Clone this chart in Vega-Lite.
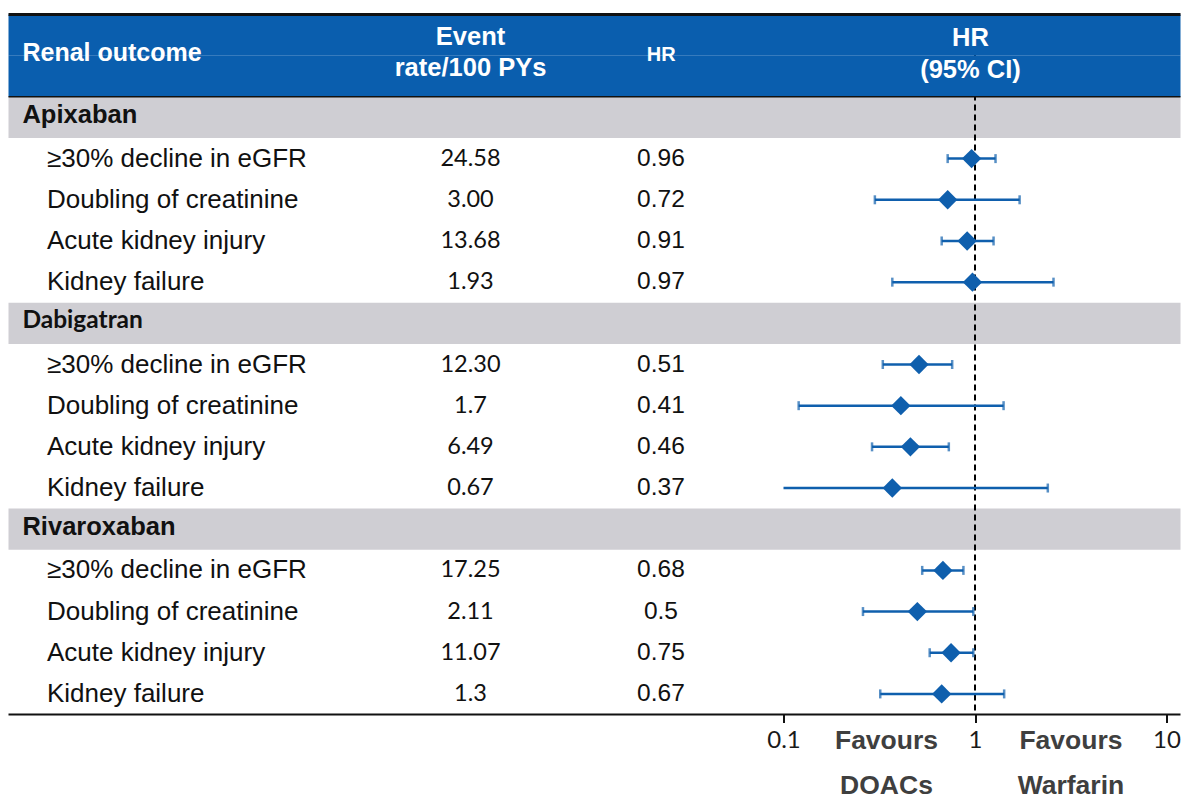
{
  "$schema": "https://vega.github.io/schema/vega-lite/v6.json",
  "width": 1172,
  "height": 700,
  "padding": {"left": 6.5, "top": 12.5, "right": 0, "bottom": 12},
  "background": "white",
  "config": {"view": {"stroke": null}, "font": "Liberation Sans"},
  "datasets": {
    "rows": [
      {"id": "apx", "kind": "group", "label": "Apixaban"},
      {"id": "apx1", "kind": "item", "label": "≥30% decline in eGFR", "rate": "24.58", "hr": 0.96, "lo": 0.72, "hi": 1.28},
      {"id": "apx2", "kind": "item", "label": "Doubling of creatinine", "rate": "3.00", "hr": 0.72, "lo": 0.30, "hi": 1.71},
      {"id": "apx3", "kind": "item", "label": "Acute kidney injury", "rate": "13.68", "hr": 0.91, "lo": 0.67, "hi": 1.25},
      {"id": "apx4", "kind": "item", "label": "Kidney failure", "rate": "1.93", "hr": 0.97, "lo": 0.37, "hi": 2.57},
      {"id": "dab", "kind": "group", "label": "Dabigatran"},
      {"id": "dab1", "kind": "item", "label": "≥30% decline in eGFR", "rate": "12.30", "hr": 0.51, "lo": 0.33, "hi": 0.76},
      {"id": "dab2", "kind": "item", "label": "Doubling of creatinine", "rate": "1.7", "hr": 0.41, "lo": 0.12, "hi": 1.41},
      {"id": "dab3", "kind": "item", "label": "Acute kidney injury", "rate": "6.49", "hr": 0.46, "lo": 0.29, "hi": 0.73},
      {"id": "dab4", "kind": "item", "label": "Kidney failure", "rate": "0.67", "hr": 0.37, "lo": 0.09, "hi": 2.40},
      {"id": "riv", "kind": "group", "label": "Rivaroxaban"},
      {"id": "riv1", "kind": "item", "label": "≥30% decline in eGFR", "rate": "17.25", "hr": 0.68, "lo": 0.53, "hi": 0.87},
      {"id": "riv2", "kind": "item", "label": "Doubling of creatinine", "rate": "2.11", "hr": 0.5, "lo": 0.26, "hi": 0.98},
      {"id": "riv3", "kind": "item", "label": "Acute kidney injury", "rate": "11.07", "hr": 0.75, "lo": 0.58, "hi": 0.98},
      {"id": "riv4", "kind": "item", "label": "Kidney failure", "rate": "1.3", "hr": 0.67, "lo": 0.32, "hi": 1.42}
    ],
    "header": [{"id": "hdr1"}, {"id": "hdr2"}],
    "one": [{}]
  },
  "data": {"name": "rows"},
  "layer": [
    {
      "layer": [
        {
          "transform": [{"filter": "datum.kind === 'group'"}],
          "mark": {"type": "rect", "color": "#CFCED3"},
          "encoding": {
            "x": {"datum": 0, "type": "quantitative", "scale": {"domain": [0, 1], "nice": false, "zero": false}, "axis": null},
            "x2": {"datum": 1},
            "y": {"field": "id", "type": "nominal", "scale": {"domain": ["hdr1","hdr2","apx","apx1","apx2","apx3","apx4","dab","dab1","dab2","dab3","dab4","riv","riv1","riv2","riv3","riv4"], "paddingInner": 0, "paddingOuter": 0}, "axis": null}
          }
        }
      ]
    },
    {
      "layer": [
        {
          "data": {"name": "one"},
          "mark": {"type": "rule", "color": "#000000", "strokeWidth": 2, "strokeDash": [6, 4]},
          "encoding": {
            "x": {"datum": 1, "type": "quantitative", "scale": {"type": "log", "domain": [0.1, 10], "range": [775, 1158], "clamp": true, "nice": false}, "axis": {"values": [0.1, 1, 10], "labelExpr": "toString(datum.value)", "title": null, "domain": false, "grid": false, "ticks": true, "tickSize": 8, "tickWidth": 2, "tickColor": "#111111", "labelFont": "Lato", "labelFontSize": 24, "labelColor": "#1a1a1a", "labelPadding": 6, "labelFlush": false, "labelOverlap": false, "labelBound": false}}
          }
        },
        {
          "transform": [{"filter": "datum.kind === 'item'"}],
          "mark": {"type": "rule", "color": "#0F5FAD", "strokeWidth": 2.5},
          "encoding": {
            "x": {"field": "lo", "type": "quantitative", "scale": {"type": "log", "domain": [0.1, 10], "range": [775, 1158], "clamp": true, "nice": false}, "axis": {"values": [0.1, 1, 10], "labelExpr": "toString(datum.value)", "title": null, "domain": false, "grid": false, "ticks": true, "tickSize": 8, "tickWidth": 2, "tickColor": "#111111", "labelFont": "Lato", "labelFontSize": 24, "labelColor": "#1a1a1a", "labelPadding": 6, "labelFlush": false, "labelOverlap": false, "labelBound": false}},
            "x2": {"field": "hi"},
            "y": {"field": "id", "type": "nominal", "scale": {"domain": ["hdr1","hdr2","apx","apx1","apx2","apx3","apx4","dab","dab1","dab2","dab3","dab4","riv","riv1","riv2","riv3","riv4"], "paddingInner": 0, "paddingOuter": 0}, "axis": null}
          }
        },
        {
          "transform": [{"filter": "datum.kind === 'item' && datum.lo >= 0.1"}],
          "mark": {"type": "tick", "color": "#0F5FAD", "size": 9, "thickness": 2.5},
          "encoding": {
            "x": {"field": "lo", "type": "quantitative", "scale": {"type": "log", "domain": [0.1, 10], "range": [775, 1158], "clamp": true, "nice": false}, "axis": {"values": [0.1, 1, 10], "labelExpr": "toString(datum.value)", "title": null, "domain": false, "grid": false, "ticks": true, "tickSize": 8, "tickWidth": 2, "tickColor": "#111111", "labelFont": "Lato", "labelFontSize": 24, "labelColor": "#1a1a1a", "labelPadding": 6, "labelFlush": false, "labelOverlap": false, "labelBound": false}},
            "y": {"field": "id", "type": "nominal", "scale": {"domain": ["hdr1","hdr2","apx","apx1","apx2","apx3","apx4","dab","dab1","dab2","dab3","dab4","riv","riv1","riv2","riv3","riv4"], "paddingInner": 0, "paddingOuter": 0}, "axis": null}
          }
        },
        {
          "transform": [{"filter": "datum.kind === 'item'"}],
          "mark": {"type": "tick", "color": "#0F5FAD", "size": 9, "thickness": 2.5},
          "encoding": {
            "x": {"field": "hi", "type": "quantitative", "scale": {"type": "log", "domain": [0.1, 10], "range": [775, 1158], "clamp": true, "nice": false}, "axis": {"values": [0.1, 1, 10], "labelExpr": "toString(datum.value)", "title": null, "domain": false, "grid": false, "ticks": true, "tickSize": 8, "tickWidth": 2, "tickColor": "#111111", "labelFont": "Lato", "labelFontSize": 24, "labelColor": "#1a1a1a", "labelPadding": 6, "labelFlush": false, "labelOverlap": false, "labelBound": false}},
            "y": {"field": "id", "type": "nominal", "scale": {"domain": ["hdr1","hdr2","apx","apx1","apx2","apx3","apx4","dab","dab1","dab2","dab3","dab4","riv","riv1","riv2","riv3","riv4"], "paddingInner": 0, "paddingOuter": 0}, "axis": null}
          }
        },
        {
          "transform": [{"filter": "datum.kind === 'item'"}],
          "mark": {"type": "point", "shape": "diamond", "filled": true, "size": 375, "color": "#0F5FAD", "opacity": 1},
          "encoding": {
            "x": {"field": "hr", "type": "quantitative", "scale": {"type": "log", "domain": [0.1, 10], "range": [775, 1158], "clamp": true, "nice": false}, "axis": {"values": [0.1, 1, 10], "labelExpr": "toString(datum.value)", "title": null, "domain": false, "grid": false, "ticks": true, "tickSize": 8, "tickWidth": 2, "tickColor": "#111111", "labelFont": "Lato", "labelFontSize": 24, "labelColor": "#1a1a1a", "labelPadding": 6, "labelFlush": false, "labelOverlap": false, "labelBound": false}},
            "y": {"field": "id", "type": "nominal", "scale": {"domain": ["hdr1","hdr2","apx","apx1","apx2","apx3","apx4","dab","dab1","dab2","dab3","dab4","riv","riv1","riv2","riv3","riv4"], "paddingInner": 0, "paddingOuter": 0}, "axis": null}
          }
        },
        {
          "data": {"name": "one"},
          "mark": {"type": "text", "text": "Favours", "font": "Liberation Sans", "fontWeight": "bold", "fontSize": 26.5, "color": "#3f3f3f", "align": "center", "baseline": "middle", "dy": 26},
          "encoding": {
            "x": {"datum": 0.345, "type": "quantitative", "scale": {"type": "log", "domain": [0.1, 10], "range": [775, 1158], "clamp": true, "nice": false}},
            "y": {"datum": "riv4", "type": "nominal", "bandPosition": 1, "scale": {"domain": ["hdr1","hdr2","apx","apx1","apx2","apx3","apx4","dab","dab1","dab2","dab3","dab4","riv","riv1","riv2","riv3","riv4"], "paddingInner": 0, "paddingOuter": 0}, "axis": null}
          }
        },
        {
          "data": {"name": "one"},
          "mark": {"type": "text", "text": "DOACs", "font": "Liberation Sans", "fontWeight": "bold", "fontSize": 26.5, "color": "#3f3f3f", "align": "center", "baseline": "middle", "dy": 71},
          "encoding": {
            "x": {"datum": 0.345, "type": "quantitative", "scale": {"type": "log", "domain": [0.1, 10], "range": [775, 1158], "clamp": true, "nice": false}},
            "y": {"datum": "riv4", "type": "nominal", "bandPosition": 1, "scale": {"domain": ["hdr1","hdr2","apx","apx1","apx2","apx3","apx4","dab","dab1","dab2","dab3","dab4","riv","riv1","riv2","riv3","riv4"], "paddingInner": 0, "paddingOuter": 0}, "axis": null}
          }
        },
        {
          "data": {"name": "one"},
          "mark": {"type": "text", "text": "Favours", "font": "Liberation Sans", "fontWeight": "bold", "fontSize": 26.5, "color": "#3f3f3f", "align": "center", "baseline": "middle", "dy": 26},
          "encoding": {
            "x": {"datum": 3.17, "type": "quantitative", "scale": {"type": "log", "domain": [0.1, 10], "range": [775, 1158], "clamp": true, "nice": false}},
            "y": {"datum": "riv4", "type": "nominal", "bandPosition": 1, "scale": {"domain": ["hdr1","hdr2","apx","apx1","apx2","apx3","apx4","dab","dab1","dab2","dab3","dab4","riv","riv1","riv2","riv3","riv4"], "paddingInner": 0, "paddingOuter": 0}, "axis": null}
          }
        },
        {
          "data": {"name": "one"},
          "mark": {"type": "text", "text": "Warfarin", "font": "Liberation Sans", "fontWeight": "bold", "fontSize": 26.5, "color": "#3f3f3f", "align": "center", "baseline": "middle", "dy": 71},
          "encoding": {
            "x": {"datum": 3.17, "type": "quantitative", "scale": {"type": "log", "domain": [0.1, 10], "range": [775, 1158], "clamp": true, "nice": false}},
            "y": {"datum": "riv4", "type": "nominal", "bandPosition": 1, "scale": {"domain": ["hdr1","hdr2","apx","apx1","apx2","apx3","apx4","dab","dab1","dab2","dab3","dab4","riv","riv1","riv2","riv3","riv4"], "paddingInner": 0, "paddingOuter": 0}, "axis": null}
          }
        }
      ]
    },
    {
      "layer": [
        {
          "data": {"name": "header"},
          "mark": {"type": "rect", "color": "#0A5EAE"},
          "encoding": {
            "x": {"datum": 0, "type": "quantitative", "scale": {"domain": [0, 1], "nice": false, "zero": false}, "axis": null},
            "x2": {"datum": 1},
            "y": {"field": "id", "type": "nominal", "scale": {"domain": ["hdr1","hdr2","apx","apx1","apx2","apx3","apx4","dab","dab1","dab2","dab3","dab4","riv","riv1","riv2","riv3","riv4"], "paddingInner": 0, "paddingOuter": 0}, "axis": null}
          }
        },
        {
          "data": {"name": "one"},
          "mark": {"type": "rule", "color": "#111111", "strokeWidth": 3},
          "encoding": {
            "x": {"datum": 0, "type": "quantitative", "scale": {"domain": [0, 1], "nice": false, "zero": false}, "axis": null},
            "x2": {"datum": 1},
            "y": {"datum": "hdr1", "type": "nominal", "bandPosition": 0, "scale": {"domain": ["hdr1","hdr2","apx","apx1","apx2","apx3","apx4","dab","dab1","dab2","dab3","dab4","riv","riv1","riv2","riv3","riv4"], "paddingInner": 0, "paddingOuter": 0}, "axis": null}
          }
        },
        {
          "data": {"name": "one"},
          "mark": {"type": "rule", "color": "#111111", "strokeWidth": 1.5},
          "encoding": {
            "x": {"datum": 0, "type": "quantitative", "scale": {"domain": [0, 1], "nice": false, "zero": false}, "axis": null},
            "x2": {"datum": 1},
            "y": {"datum": "hdr2", "type": "nominal", "bandPosition": 1, "scale": {"domain": ["hdr1","hdr2","apx","apx1","apx2","apx3","apx4","dab","dab1","dab2","dab3","dab4","riv","riv1","riv2","riv3","riv4"], "paddingInner": 0, "paddingOuter": 0}, "axis": null}
          }
        },
        {
          "data": {"name": "one"},
          "mark": {"type": "rule", "color": "#111111", "strokeWidth": 2},
          "encoding": {
            "x": {"datum": 0, "type": "quantitative", "scale": {"domain": [0, 1], "nice": false, "zero": false}, "axis": null},
            "x2": {"datum": 1},
            "y": {"datum": "riv4", "type": "nominal", "bandPosition": 1, "scale": {"domain": ["hdr1","hdr2","apx","apx1","apx2","apx3","apx4","dab","dab1","dab2","dab3","dab4","riv","riv1","riv2","riv3","riv4"], "paddingInner": 0, "paddingOuter": 0}, "axis": null}
          }
        },
        {
          "data": {"name": "one"},
          "mark": {"type": "text", "text": "Renal outcome", "fontWeight": "bold", "fontSize": 25, "color": "white", "align": "left", "baseline": "middle", "dy": -3},
          "encoding": {
            "x": {"datum": 0.0119, "type": "quantitative", "scale": {"domain": [0, 1], "nice": false, "zero": false}, "axis": null},
            "y": {"datum": "hdr2", "type": "nominal", "bandPosition": 0, "scale": {"domain": ["hdr1","hdr2","apx","apx1","apx2","apx3","apx4","dab","dab1","dab2","dab3","dab4","riv","riv1","riv2","riv3","riv4"], "paddingInner": 0, "paddingOuter": 0}, "axis": null}
          }
        },
        {
          "data": {"name": "one"},
          "mark": {"type": "text", "text": ["Event", "rate/100 PYs"], "lineHeight": 31, "fontWeight": "bold", "fontSize": 25.5, "color": "white", "align": "center", "baseline": "middle", "dy": -18.5},
          "encoding": {
            "x": {"datum": 0.3942, "type": "quantitative", "scale": {"domain": [0, 1], "nice": false, "zero": false}, "axis": null},
            "y": {"datum": "hdr2", "type": "nominal", "bandPosition": 0, "scale": {"domain": ["hdr1","hdr2","apx","apx1","apx2","apx3","apx4","dab","dab1","dab2","dab3","dab4","riv","riv1","riv2","riv3","riv4"], "paddingInner": 0, "paddingOuter": 0}, "axis": null}
          }
        },
        {
          "data": {"name": "one"},
          "mark": {"type": "text", "text": "HR", "fontWeight": "bold", "fontSize": 20, "color": "white", "align": "center", "baseline": "middle", "dy": -1},
          "encoding": {
            "x": {"datum": 0.557, "type": "quantitative", "scale": {"domain": [0, 1], "nice": false, "zero": false}, "axis": null},
            "y": {"datum": "hdr2", "type": "nominal", "bandPosition": 0, "scale": {"domain": ["hdr1","hdr2","apx","apx1","apx2","apx3","apx4","dab","dab1","dab2","dab3","dab4","riv","riv1","riv2","riv3","riv4"], "paddingInner": 0, "paddingOuter": 0}, "axis": null}
          }
        },
        {
          "data": {"name": "one"},
          "mark": {"type": "text", "text": ["HR", "(95% CI)"], "lineHeight": 32, "fontWeight": "bold", "fontSize": 25.5, "color": "white", "align": "center", "baseline": "middle", "dy": -18},
          "encoding": {
            "x": {"datum": 0.8208, "type": "quantitative", "scale": {"domain": [0, 1], "nice": false, "zero": false}, "axis": null},
            "y": {"datum": "hdr2", "type": "nominal", "bandPosition": 0, "scale": {"domain": ["hdr1","hdr2","apx","apx1","apx2","apx3","apx4","dab","dab1","dab2","dab3","dab4","riv","riv1","riv2","riv3","riv4"], "paddingInner": 0, "paddingOuter": 0}, "axis": null}
          }
        },
        {
          "transform": [{"filter": "datum.kind === 'group' && datum.label !== 'Dabigatran'"}],
          "mark": {"type": "text", "fontWeight": "bold", "fontSize": 25.5, "color": "#111111", "align": "left", "baseline": "middle", "dy": -2},
          "encoding": {
            "x": {"datum": 0.0119, "type": "quantitative", "scale": {"domain": [0, 1], "nice": false, "zero": false}, "axis": null},
            "y": {"field": "id", "type": "nominal", "scale": {"domain": ["hdr1","hdr2","apx","apx1","apx2","apx3","apx4","dab","dab1","dab2","dab3","dab4","riv","riv1","riv2","riv3","riv4"], "paddingInner": 0, "paddingOuter": 0}, "axis": null},
            "text": {"field": "label", "type": "nominal"}
          }
        },
        {
          "transform": [{"filter": "datum.label === 'Dabigatran'"}],
          "mark": {"type": "text", "font": "Lato", "fontWeight": "bold", "fontSize": 24.5, "color": "#111111", "align": "left", "baseline": "middle", "dy": -2},
          "encoding": {
            "x": {"datum": 0.0119, "type": "quantitative", "scale": {"domain": [0, 1], "nice": false, "zero": false}, "axis": null},
            "y": {"field": "id", "type": "nominal", "scale": {"domain": ["hdr1","hdr2","apx","apx1","apx2","apx3","apx4","dab","dab1","dab2","dab3","dab4","riv","riv1","riv2","riv3","riv4"], "paddingInner": 0, "paddingOuter": 0}, "axis": null},
            "text": {"field": "label", "type": "nominal"}
          }
        },
        {
          "transform": [{"filter": "datum.kind === 'item'"}],
          "mark": {"type": "text", "fontSize": 26, "color": "#111111", "align": "left", "baseline": "middle"},
          "encoding": {
            "x": {"datum": 0.0328, "type": "quantitative", "scale": {"domain": [0, 1], "nice": false, "zero": false}, "axis": null},
            "y": {"field": "id", "type": "nominal", "scale": {"domain": ["hdr1","hdr2","apx","apx1","apx2","apx3","apx4","dab","dab1","dab2","dab3","dab4","riv","riv1","riv2","riv3","riv4"], "paddingInner": 0, "paddingOuter": 0}, "axis": null},
            "text": {"field": "label", "type": "nominal"}
          }
        },
        {
          "transform": [{"filter": "datum.kind === 'item'"}],
          "mark": {"type": "text", "font": "Lato", "fontSize": 23.5, "color": "#111111", "align": "center", "baseline": "middle"},
          "encoding": {
            "x": {"datum": 0.3942, "type": "quantitative", "scale": {"domain": [0, 1], "nice": false, "zero": false}, "axis": null},
            "y": {"field": "id", "type": "nominal", "scale": {"domain": ["hdr1","hdr2","apx","apx1","apx2","apx3","apx4","dab","dab1","dab2","dab3","dab4","riv","riv1","riv2","riv3","riv4"], "paddingInner": 0, "paddingOuter": 0}, "axis": null},
            "text": {"field": "rate", "type": "nominal"}
          }
        },
        {
          "transform": [{"filter": "datum.kind === 'item'"}],
          "mark": {"type": "text", "fontSize": 24.5, "color": "#111111", "align": "center", "baseline": "middle"},
          "encoding": {
            "x": {"datum": 0.5567, "type": "quantitative", "scale": {"domain": [0, 1], "nice": false, "zero": false}, "axis": null},
            "y": {"field": "id", "type": "nominal", "scale": {"domain": ["hdr1","hdr2","apx","apx1","apx2","apx3","apx4","dab","dab1","dab2","dab3","dab4","riv","riv1","riv2","riv3","riv4"], "paddingInner": 0, "paddingOuter": 0}, "axis": null},
            "text": {"field": "hr", "type": "nominal"}
          }
        }
      ]
    }
  ],
  "resolve": {"scale": {"x": "independent"}, "axis": {"x": "independent"}}
}
